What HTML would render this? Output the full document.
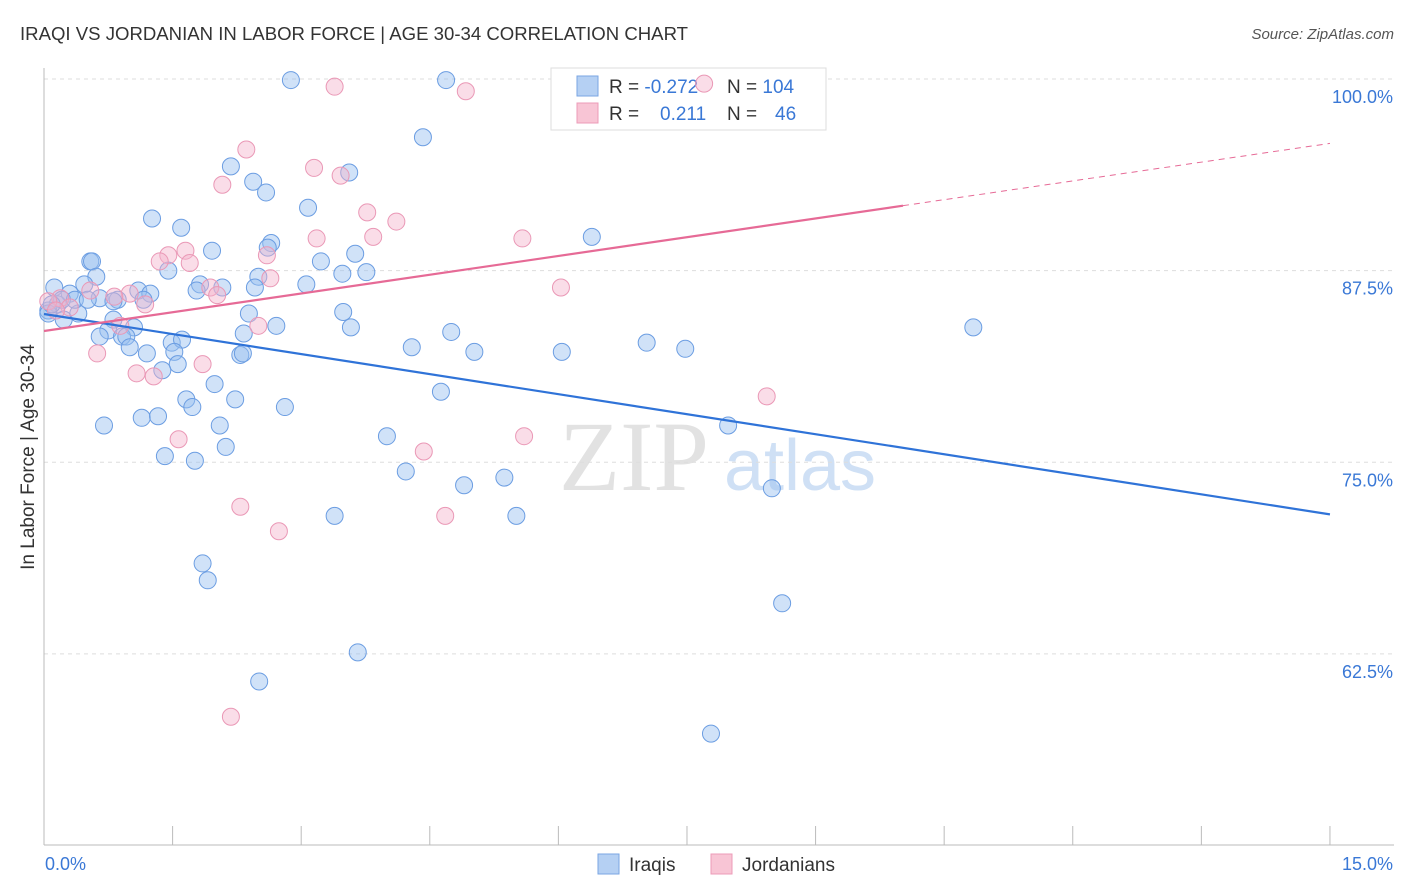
<!DOCTYPE html>
<html><head><meta charset="utf-8">
<style>
body{margin:0;background:#fff;font-family:"Liberation Sans",sans-serif;}
svg{display:block}
</style></head>
<body>
<svg id="chart" width="1406" height="892">
<text x="20" y="40" font-size="18.5" fill="#333" textLength="668" lengthAdjust="spacingAndGlyphs">IRAQI VS JORDANIAN IN LABOR FORCE | AGE 30-34 CORRELATION CHART</text>
<text x="1394" y="39" font-size="15" fill="#555" font-style="italic" text-anchor="end">Source: ZipAtlas.com</text>
<text x="634" y="490" font-size="100" fill="#e2e2e2" font-family="Liberation Serif,serif" text-anchor="middle">ZIP</text>
<text x="800" y="490" font-size="72" fill="#cfe0f5" text-anchor="middle">atlas</text>
<g id="grid"></g>
<g id="axes"></g>
<g>
<rect x="551" y="68" width="275" height="62" fill="#fff" stroke="#ddd"/>
<rect x="577" y="76" width="21" height="20" fill="#b5d0f3" stroke="#7aa6e3"/>
<rect x="577" y="103" width="21" height="20" fill="#f8c5d5" stroke="#ec9bb8"/>
<text x="609" y="93" font-size="19" fill="#333">R = <tspan fill="#3a78d6">-0.272</tspan></text>
<text x="727" y="93" font-size="19" fill="#333">N = <tspan fill="#3a78d6">104</tspan></text>
<text x="609" y="120" font-size="19" fill="#333">R = <tspan fill="#3a78d6" x="660">0.211</tspan></text>
<text x="727" y="120" font-size="19" fill="#333">N = <tspan fill="#3a78d6" x="775">46</tspan></text>
</g>
<g id="pts"></g>
<g id="lines"></g>
<text transform="translate(34,457) rotate(-90)" font-size="19" fill="#333" text-anchor="middle">In Labor Force | Age 30-34</text>
<text x="45" y="870" font-size="18" fill="#3a78d6">0.0%</text>
<text x="1393" y="870" font-size="18" fill="#3a78d6" text-anchor="end">15.0%</text>
<g>
<rect x="598" y="854" width="21" height="20" fill="#b5d0f3" stroke="#7aa6e3"/>
<text x="629" y="871" font-size="19" fill="#333">Iraqis</text>
<rect x="711" y="854" width="21" height="20" fill="#f8c5d5" stroke="#ec9bb8"/>
<text x="742" y="871" font-size="19" fill="#333">Jordanians</text>
</g>
</svg>
<script>
const yTicks=[100,87.5,75,62.5];
const yTickLabels=["100.0%","87.5%","75.0%","62.5%"];
const xTicks=[0,1.5,3,4.5,6,7.5,9,10.5,12,13.5,15];
const iraqiX=[2.88,4.69,4.42,2.18,2.44,2.59,3.56,3.08,1.26,1.60,6.39,1.96,2.65,2.61,3.63,3.23,3.48,3.76,2.50,1.45,0.54,0.56,0.61,0.47,0.12,0.30,0.65,0.86,1.10,1.24,1.82,1.78,2.08,2.46,3.06,1.16,0.16,0.05,0.23,0.40,0.81,0.81,0.75,1.05,0.65,0.91,0.96,1.00,1.20,1.49,1.61,1.52,1.56,2.33,2.39,2.71,3.49,3.58,2.29,2.32,1.38,1.99,1.66,1.73,2.23,2.81,0.70,1.14,1.33,2.05,2.12,1.41,1.76,4.00,4.22,4.90,5.37,3.39,5.51,4.75,4.29,5.02,4.63,6.04,7.03,7.48,7.98,8.49,8.61,7.78,10.84,1.85,1.91,3.66,2.51,0.05,0.21,0.09,0.36,0.51];
const iraqiY=[99.93,99.93,96.2,94.3,93.3,92.6,93.9,91.6,90.9,90.3,89.7,88.8,89.3,89.0,88.6,88.1,87.3,87.4,87.1,87.5,88.1,88.1,87.1,86.6,86.4,86.0,85.7,85.6,86.2,86.0,86.6,86.2,86.4,86.4,86.6,85.6,85.3,84.9,84.3,84.7,85.5,84.3,83.6,83.8,83.2,83.2,83.2,82.5,82.1,82.8,83.0,82.2,81.4,83.4,84.7,83.9,84.8,83.8,82.0,82.1,81.0,80.1,79.1,78.6,79.1,78.6,77.4,77.9,78.0,77.4,76.0,75.4,75.1,76.7,74.4,73.5,74.0,71.5,71.5,83.5,82.5,82.2,79.6,82.2,82.8,82.4,77.4,73.3,65.8,57.3,83.8,68.4,67.3,62.6,60.7,84.7,85.6,85.3,85.6,85.6];
const jordX=[3.39,4.92,7.70,2.36,3.15,3.46,2.08,3.77,4.11,3.18,3.84,5.58,1.45,1.65,1.35,1.70,2.60,2.64,6.03,1.94,2.02,1.00,1.18,0.82,0.54,0.19,0.05,0.30,2.50,0.89,0.62,1.08,1.28,1.85,8.43,1.57,4.43,5.60,2.29,2.74,4.68,2.18,0.14];
const jordY=[99.5,99.2,99.7,95.4,94.2,93.7,93.1,91.3,90.7,89.6,89.7,89.6,88.5,88.8,88.1,88.0,88.5,87.0,86.4,86.4,85.9,86.0,85.3,85.8,86.2,85.7,85.5,85.1,83.9,83.9,82.1,80.8,80.6,81.4,79.3,76.5,75.7,76.7,72.1,70.5,71.5,58.4,84.9];
const iraqiTrend=[84.67,71.6];
const jordTrend=[83.56,95.8];
const NS="http://www.w3.org/2000/svg";
const X=v=>44+v*85.73;
const Y=v=>79+(100-v)*15.33;
function mk(tag,attrs,parent){const e=document.createElementNS(NS,tag);for(const k in attrs)e.setAttribute(k,attrs[k]);document.getElementById(parent).appendChild(e);return e;}
yTicks.forEach((t,i)=>{
 const l=mk('line',{x1:44,x2:1394,y1:Y(t),y2:Y(t),stroke:'#ddd','stroke-dasharray':'4,4'},'grid');
 
 
 const tx=mk('text',{x:1393,y:Y(t)+24,'font-size':18,fill:'#3a78d6','text-anchor':'end'},'grid');
 tx.textContent=yTickLabels[i];
 
 
});
const ax=mk('line',{x1:44,x2:44,y1:68,y2:845,stroke:'#bbb'},'axes');


const bx=mk('line',{x1:44,x2:1394,y1:845,y2:845,stroke:'#bbb'},'axes');


xTicks.forEach(t=>{
 const l=mk('line',{x1:X(t),x2:X(t),y1:826,y2:845,stroke:'#bbb'},'axes');
 
 
});
iraqiX.forEach((v,i)=>{
 const c=mk('circle',{cx:X(v),cy:Y(iraqiY[i]),r:8.5,fill:'rgba(150,190,240,0.45)',stroke:'#6b9de2','stroke-width':1},'pts');
 
 
});
jordX.forEach((v,i)=>{
 const c=mk('circle',{cx:X(v),cy:Y(jordY[i]),r:8.5,fill:'rgba(245,180,204,0.45)',stroke:'#ea98b6','stroke-width':1},'pts');
 
 
});
const bl=mk('line',{x1:X(0),y1:Y(iraqiTrend[0]),x2:X(15),y2:Y(iraqiTrend[1]),stroke:'#2f73d8','stroke-width':2.2},'lines');


const xs=10.02, ym=jordTrend[0]+(jordTrend[1]-jordTrend[0])*xs/15;
const pl=mk('line',{x1:X(0),y1:Y(jordTrend[0]),x2:X(xs),y2:Y(ym),stroke:'#e66a96','stroke-width':2.2},'lines');


const pd=mk('line',{x1:X(xs),y1:Y(ym),x2:X(15),y2:Y(jordTrend[1]),stroke:'#e66a96','stroke-width':1,'stroke-dasharray':'6,5'},'lines');


</script>
</body></html>
